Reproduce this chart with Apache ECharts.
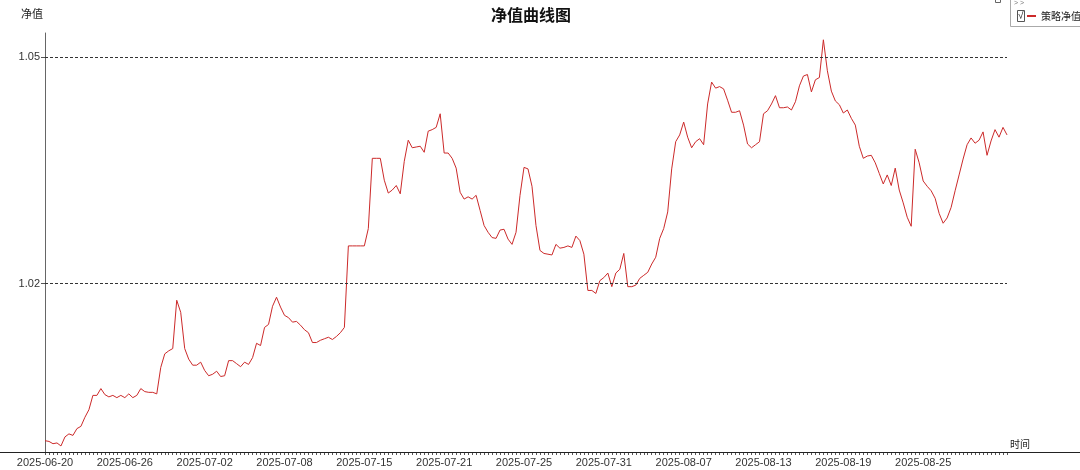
<!DOCTYPE html>
<html>
<head>
<meta charset="utf-8">
<script src="https://cdn.jsdelivr.net/npm/echarts@6/dist/echarts.min.js"></script>
<style>
html,body{margin:0;padding:0;background:#fff;}
#chart{width:1080px;height:470px;}
</style>
</head>
<body>
<div id="chart"></div>
<script>
// ---- data ----
const chartTitle = '净值曲线图';
const seriesName = '策略净值';
const xTickLabels = ['2025-06-20','2025-06-26','2025-07-02','2025-07-08','2025-07-15','2025-07-21',
  '2025-07-25','2025-07-31','2025-08-07','2025-08-13','2025-08-19','2025-08-25'];
const pointsPerLabel = 20;
const yTickValues = [1.02, 1.05];
const navValues = [
  0.9992,0.9991,0.9988,0.9989,0.9985,0.9997,1.0001,0.9999,1.0008,1.0011,
  1.0023,1.0033,1.0052,1.0052,1.0061,1.0053,1.0050,1.0052,1.0049,1.0052,
  1.0049,1.0054,1.0049,1.0052,1.0061,1.0057,1.0056,1.0056,1.0054,1.0089,
  1.0107,1.0111,1.0114,1.0178,1.0162,1.0114,1.0100,1.0092,1.0092,1.0096,
  1.0085,1.0078,1.0080,1.0084,1.0077,1.0078,1.0098,1.0098,1.0094,1.0090,
  1.0096,1.0093,1.0102,1.0121,1.0118,1.0142,1.0146,1.0170,1.0182,1.0169,
  1.0158,1.0155,1.0149,1.0150,1.0145,1.0139,1.0135,1.0122,1.0122,1.0125,
  1.0127,1.0129,1.0126,1.0130,1.0135,1.0142,1.0250,1.0250,1.0250,1.0250,
  1.0250,1.0273,1.0366,1.0366,1.0366,1.0337,1.0320,1.0324,1.0330,1.0319,
  1.0362,1.0390,1.0380,1.0381,1.0382,1.0374,1.0402,1.0404,1.0407,1.0425,
  1.0373,1.0373,1.0366,1.0353,1.0321,1.0312,1.0315,1.0312,1.0317,1.0297,
  1.0277,1.0268,1.0261,1.0260,1.0271,1.0272,1.0259,1.0252,1.0268,1.0317,
  1.0354,1.0352,1.0329,1.0277,1.0244,1.0240,1.0239,1.0238,1.0252,1.0247,
  1.0248,1.0250,1.0248,1.0263,1.0257,1.0239,1.0191,1.0191,1.0187,1.0204,
  1.0208,1.0214,1.0196,1.0214,1.0219,1.0240,1.0196,1.0196,1.0198,1.0207,
  1.0211,1.0215,1.0226,1.0235,1.0260,1.0273,1.0295,1.0352,1.0388,1.0397,
  1.0414,1.0394,1.0380,1.0388,1.0392,1.0384,1.0438,1.0467,1.0459,1.0461,
  1.0458,1.0443,1.0427,1.0427,1.0429,1.0410,1.0385,1.0380,1.0384,1.0388,
  1.0425,1.0429,1.0438,1.0449,1.0433,1.0433,1.0434,1.0430,1.0441,1.0462,
  1.0475,1.0477,1.0454,1.0470,1.0473,1.0523,1.0482,1.0455,1.0442,1.0437,
  1.0426,1.0430,1.0419,1.0410,1.0382,1.0366,1.0369,1.0370,1.0360,1.0346,
  1.0332,1.0344,1.0330,1.0353,1.0324,1.0307,1.0288,1.0276,1.0378,1.0360,
  1.0336,1.0329,1.0323,1.0313,1.0293,1.0280,1.0287,1.0301,1.0323,1.0344,
  1.0365,1.0384,1.0393,1.0386,1.0390,1.0401,1.0370,1.0389,1.0404,1.0394,
  1.0407,1.0397
];
const categories = navValues.map((_, i) => i);

// ---- chart ----
const numFont = 'Liberation Sans';
const cjkFont = 'Noto Sans CJK SC';
const chart = echarts.init(document.getElementById('chart'), null, {renderer: 'canvas'});
chart.setOption({
  animation: false,
  backgroundColor: '#ffffff',
  title: {
    text: chartTitle,
    left: 526,
    textAlign: 'center',
    top: 2,
    textStyle: {fontFamily: cjkFont, fontSize: 16, fontWeight: 'bold', color: '#111'}
  },
  legend: {
    data: [seriesName],
    left: 1027,
    top: 11,
    padding: 0,
    z: 10,
    itemWidth: 9,
    itemHeight: 2,
    itemGap: 0,
    icon: 'rect',
    selectedMode: false,
    textStyle: {fontFamily: cjkFont, fontSize: 10, color: '#222'}
  },
  grid: {left: 45, right: 73, top: 33, bottom: 18, containLabel: false},
  xAxis: {
    type: 'category',
    data: categories,
    boundaryGap: false,
    name: '时间',
    nameLocation: 'end',
    nameGap: 3,
    nameTextStyle: {fontFamily: cjkFont, fontSize: 10, color: '#222', align: 'left', verticalAlign: 'bottom', padding: [0, 0, 3, 0]},
    axisLine: {show: false},
    axisTick: {show: true, interval: 0, length: 3, lineStyle: {color: '#555', width: 1}},
    axisLabel: {
      interval: (i) => i % pointsPerLabel === 0,
      formatter: (v, i) => (i % pointsPerLabel === 0 && xTickLabels[i / pointsPerLabel]) ? xTickLabels[i / pointsPerLabel] : '',
      margin: 5,
      fontFamily: numFont,
      fontSize: 11,
      color: '#333'
    },
    splitLine: {show: false}
  },
  yAxis: {
    type: 'value',
    min: 0.9977,
    max: 1.0532,
    name: '净值',
    nameLocation: 'end',
    nameGap: 14,
    nameTextStyle: {fontFamily: cjkFont, fontSize: 11, color: '#222', align: 'right', padding: [0, 2, 0, 0]},
    axisLine: {show: true, lineStyle: {color: '#666', width: 1}},
    axisTick: {show: true, length: 4, customValues: yTickValues, lineStyle: {color: '#555'}},
    axisLabel: {
      customValues: yTickValues,
      formatter: (v) => v.toFixed(2),
      margin: 5,
      fontFamily: numFont,
      fontSize: 11,
      color: '#333'
    },
    splitLine: {show: false}
  },
  series: [{
    name: seriesName,
    type: 'line',
    data: navValues,
    showSymbol: false,
    symbol: 'none',
    lineStyle: {width: 1, color: '#cc2a2a'},
    itemStyle: {color: '#cc2a2a'},
    markLine: {
      silent: true,
      symbol: 'none',
      label: {show: false},
      lineStyle: {type: [3, 2], color: '#333', width: 1},
      data: yTickValues.map(v => ({yAxis: v}))
    }
  }],
  graphic: [
    {type: 'line', z: 5, shape: {x1: 0, y1: 452.5, x2: 1080, y2: 452.5}, style: {stroke: '#222', lineWidth: 1}},
    {type: 'rect', z: 1, shape: {x: 1010.5, y: -1.5, width: 75, height: 28}, style: {fill: '#fff', stroke: '#aaa', lineWidth: 1}},
    {type: 'rect', z: 1, shape: {x: 995.5, y: -2.5, width: 5, height: 5}, style: {fill: '#fff', stroke: '#666', lineWidth: 1}},
    {type: 'text', z: 2, x: 1014, y: 0, style: {text: '> >', fontSize: 7, fill: '#777', fontFamily: numFont}},
    {type: 'rect', z: 2, shape: {x: 1017.5, y: 10.5, width: 7, height: 11}, style: {fill: '#fff', stroke: '#555', lineWidth: 1}},
    {type: 'text', z: 3, x: 1018, y: 11, style: {text: '√', fontSize: 10, fill: '#222', fontFamily: numFont}}
  ]
});
</script>
</body>
</html>
